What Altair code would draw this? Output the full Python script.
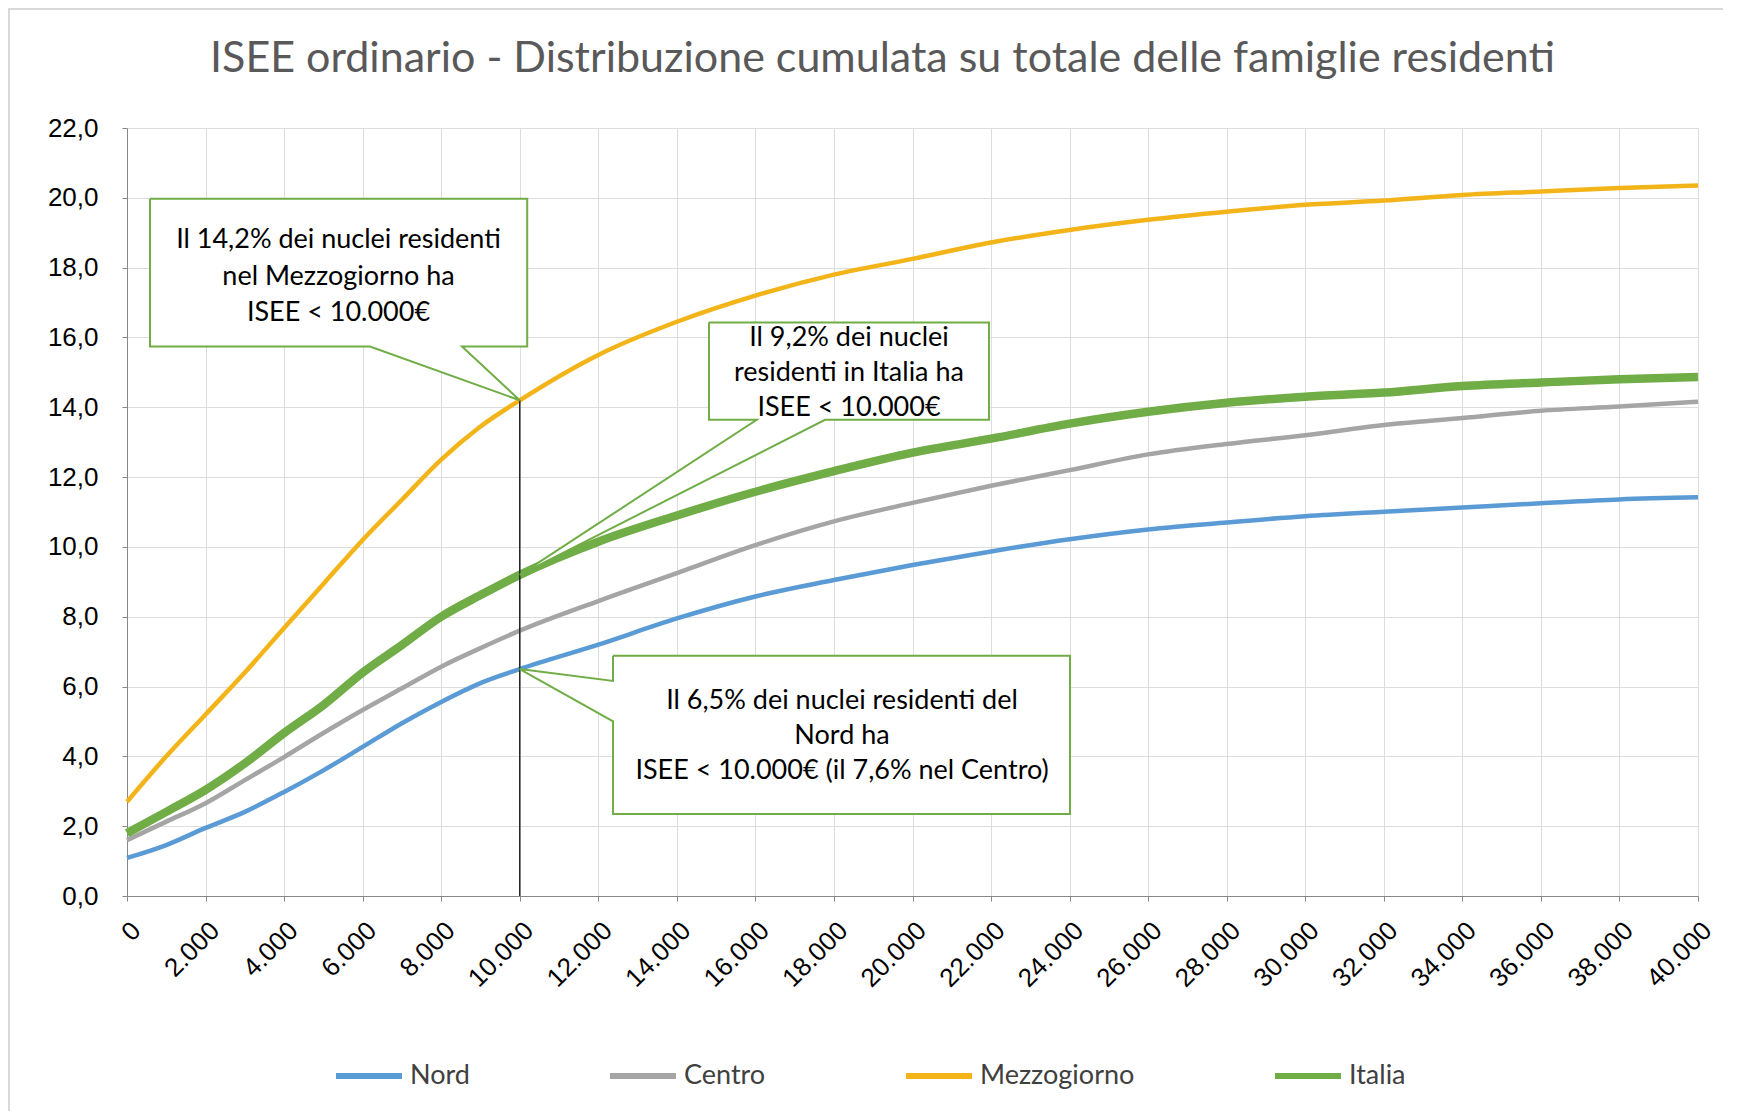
import altair as alt
import pandas as pd

# ---- data ----
isee = [0, 1000, 2000, 3000, 4000, 5000, 6000, 7000, 8000, 9000, 10000,
        12000, 14000, 16000, 18000, 20000, 22000, 24000, 26000, 28000,
        30000, 32000, 34000, 36000, 38000, 40000]

nord = [1.09, 1.46, 1.95, 2.41, 2.98, 3.60, 4.27, 4.95, 5.56, 6.10, 6.50,
        7.20, 7.95, 8.58, 9.05, 9.48, 9.87, 10.22, 10.50, 10.70,
        10.88, 11.01, 11.13, 11.25, 11.36, 11.42]
centro = [1.60, 2.13, 2.66, 3.32, 3.98, 4.67, 5.33, 5.95, 6.57, 7.10, 7.60,
          8.45, 9.25, 10.05, 10.73, 11.26, 11.75, 12.20, 12.65, 12.95,
          13.20, 13.49, 13.69, 13.90, 14.02, 14.16]
mezzogiorno = [2.70, 4.00, 5.20, 6.40, 7.68, 8.94, 10.20, 11.35, 12.50, 13.45, 14.20,
               15.50, 16.45, 17.20, 17.80, 18.25, 18.72, 19.08, 19.37, 19.60,
               19.80, 19.92, 20.08, 20.18, 20.28, 20.35]
italia = [1.80, 2.41, 3.04, 3.80, 4.67, 5.47, 6.40, 7.19, 8.00, 8.62, 9.20,
          10.15, 10.90, 11.58, 12.17, 12.70, 13.10, 13.53, 13.87, 14.13,
          14.30, 14.42, 14.61, 14.71, 14.80, 14.87]

series_names = ["Nord", "Centro", "Mezzogiorno", "Italia"]
series_colors = ["#5B9BD5", "#A5A5A5", "#F2B418", "#70AD47"]

x_ticks = list(range(0, 40001, 2000))
y_ticks = list(range(0, 23, 2))

title_text = "ISEE ordinario - Distribuzione cumulata su totale delle famiglie residenti"

marker_x = 10000
marker_top = 14.2

note_texts = [
    ["Il 14,2% dei nuclei residenti", "nel Mezzogiorno ha", "ISEE < 10.000€"],
    ["Il 9,2% dei nuclei", "residenti in Italia ha", "ISEE < 10.000€"],
    ["Il 6,5% dei nuclei residenti del", "Nord ha", "ISEE < 10.000€ (il 7,6% nel Centro)"],
]

# ---- build tables ----
rows = []
for name, vals in zip(series_names, [nord, centro, mezzogiorno, italia]):
    for xv, yv in zip(isee, vals):
        rows.append({"isee": xv, "pct": yv, "serie": name})
df = pd.DataFrame(rows)

# callout shapes (annotation geometry in data units)
callouts = {
    "a": [(586, 19.97), (10190, 19.97), (10190, 15.74), (8530, 15.74), (10000, 14.2),
          (6187, 15.74), (586, 15.74), (586, 19.97)],
    "b": [(14818, 16.43), (21948, 16.43), (21948, 13.64), (17772, 13.64), (10000, 9.2),
          (16033, 13.64), (14818, 13.64), (14818, 16.43)],
    "c": [(12375, 6.88), (24010, 6.88), (24010, 2.35), (12375, 2.35), (12375, 5.0),
          (10000, 6.5), (12375, 6.16), (12375, 6.88)],
}
poly_rows = []
for k, pts in callouts.items():
    for i, (px, py) in enumerate(pts):
        poly_rows.append({"box": k, "i": i, "isee": px, "pct": py})
df_poly = pd.DataFrame(poly_rows)

text_pos = [(5385, [18.80, 17.74, 16.70]),
            (18383, [15.99, 14.99, 13.98]),
            (18205, [5.59, 4.58, 3.58])]
text_rows = []
for (cx, ys), lines in zip(text_pos, note_texts):
    for yy, t in zip(ys, lines):
        text_rows.append({"isee": cx, "pct": yy, "t": t})
df_text = pd.DataFrame(text_rows)

df_rule = pd.DataFrame({"isee": [marker_x], "y0": [0], "y1": [marker_top]})

FONT = "Lato"
TXT = "#404040"

x_enc = alt.X("isee:Q", scale=alt.Scale(domain=[0, 40000], nice=False),
              axis=alt.Axis(values=x_ticks, labelAngle=-45, title=None,
                            labelExpr="datum.value == 0 ? '0' : replace(format(datum.value, ','), ',', '.')",
                            labelPadding=16, labelFontSize=26))
y_enc = alt.Y("pct:Q", scale=alt.Scale(domain=[0, 22], nice=False),
              axis=alt.Axis(values=y_ticks, title=None,
                            labelExpr="replace(format(datum.value, '.1f'), '.', ',')",
                            labelPadding=24, labelFontSize=26))

legend_spec = alt.Legend(orient="none", legendX=206, legendY=912,
                         direction="horizontal", columns=4, title=None,
                         symbolType="stroke", symbolSize=4356, symbolStrokeWidth=6,
                         labelFontSize=27, labelFont=FONT, labelColor=TXT,
                         columnPadding=128, labelOffset=5)

lines = alt.Chart(df).mark_line(strokeCap="butt", strokeJoin="round",
                                interpolate="monotone").encode(
    x=x_enc,
    y=y_enc,
    color=alt.Color("serie:N", sort=series_names,
                    scale=alt.Scale(domain=series_names, range=series_colors),
                    legend=legend_spec),
    strokeWidth=alt.condition(alt.datum.serie == "Italia", alt.value(8.5), alt.value(4.5)),
    order=alt.Order("isee:Q"),
)

rule = alt.Chart(df_rule).mark_rule(color="#262626", strokeWidth=1.5).encode(
    x="isee:Q", y="y0:Q", y2="y1:Q")

polys = alt.Chart(df_poly).mark_line(fill="white", stroke="#70AD47", strokeWidth=2,
                                     strokeJoin="miter").encode(
    x="isee:Q", y="pct:Q", detail="box:N", order="i:Q")

texts = alt.Chart(df_text).mark_text(font=FONT, fontSize=27, color="#000000",
                                     align="center", baseline="middle").encode(
    x="isee:Q", y="pct:Q", text="t:N")

frame = alt.Chart(df_rule).mark_rect(fill=None, stroke="#D9D9D9", strokeWidth=2).encode(
    x=alt.value(-118), x2=alt.value(1700), y=alt.value(-119), y2=alt.value(1100))

chart = alt.layer(frame, lines, rule, polys, texts).properties(
    width=1571, height=768,
    autosize=alt.AutoSizeParams(type="none"),
    padding={"left": 119, "top": 120, "right": 25, "bottom": 215},
    title=alt.TitleParams(title_text, font=FONT, fontSize=43, fontWeight="normal",
                          color="#595959", anchor="middle", dx=-30, offset=-73),
).configure_axis(
    gridColor="#D9D9D9", gridWidth=1, domain=False, tickColor="#D9D9D9", tickSize=7,
    labelFont=FONT, labelColor=TXT,
).configure_view(stroke=None).configure(background="white")

chart.save("out.html", embed_options={"renderer": "svg", "actions": False})
